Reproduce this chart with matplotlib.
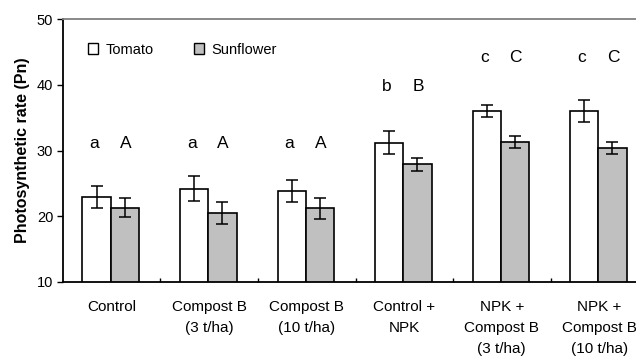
import numpy as np
import matplotlib.pyplot as plt
from matplotlib.patches import Patch
from matplotlib.ticker import FixedLocator

plt.rcParams['font.family'] = ['Liberation Sans', 'DejaVu Sans']

categories = ['Control', 'Compost B\n(3 t/ha)', 'Compost B\n(10 t/ha)',
              'Control +\nNPK', 'NPK +\nCompost B\n(3 t/ha)', 'NPK +\nCompost B\n(10 t/ha)']
tomato = [22.9, 24.2, 23.8, 31.2, 36.0, 36.0]
tomato_err = [1.7, 1.9, 1.7, 1.7, 0.9, 1.7]
sunflower = [21.3, 20.5, 21.2, 27.9, 31.3, 30.4]
sunflower_err = [1.4, 1.65, 1.6, 0.95, 0.9, 0.95]
letters_tom = ['a', 'a', 'a', 'b', 'c', 'c']
letters_sun = ['A', 'A', 'A', 'B', 'C', 'C']
letter_y = [31.1, 31.1, 31.1, 39.7, 44.2, 44.2]

fig = plt.figure(figsize=(6.36, 3.58), dpi=100)
ax = fig.add_axes([0.099, 0.2123, 0.920, 0.7346])

x = np.arange(len(categories))
w = 0.29
ekw = dict(elinewidth=1.1, capthick=1.1)
ax.bar(x - 0.155, tomato, w, yerr=tomato_err, capsize=4,
       color='white', edgecolor='black', linewidth=1.2, error_kw=ekw)
ax.bar(x + 0.135, sunflower, w, yerr=sunflower_err, capsize=4,
       color='#c0c0c0', edgecolor='black', linewidth=1.2, error_kw=ekw)

for i in range(len(categories)):
    ax.text(x[i] - 0.18, letter_y[i], letters_tom[i], ha='center', va='center', fontsize=12.5)
    ax.text(x[i] + 0.14, letter_y[i], letters_sun[i], ha='center', va='center', fontsize=12.5)

ax.set_xlim(-0.5, 5.5)
ax.set_ylim(10, 50)
ax.set_yticks([10, 20, 30, 40, 50])
ax.set_xticks(x)
ax.set_xticklabels(categories, fontsize=11, linespacing=1.62, va='top')
ax.xaxis.set_minor_locator(FixedLocator(x[:-1] + 0.5))
ax.tick_params(axis='x', which='major', length=0, pad=13)
ax.tick_params(axis='x', which='minor', direction='in', length=3, width=1)
ax.tick_params(axis='y', direction='out', length=4, width=1, labelsize=10.5, pad=3)

ax.spines['left'].set_linewidth(1.3)
ax.spines['bottom'].set_linewidth(1.3)
ax.spines['top'].set_color('#808080')
ax.spines['top'].set_linewidth(1.3)
ax.spines['right'].set_visible(False)

ax.set_ylabel('Photosynthetic rate (Pn)', fontsize=11.5, fontweight='bold', labelpad=5)

handles = [Patch(facecolor='white', edgecolor='black', linewidth=1),
           Patch(facecolor='#c0c0c0', edgecolor='black', linewidth=1)]
ax.legend(handles, ['Tomato', 'Sunflower'], loc='upper left', ncol=2, frameon=False,
          fontsize=10.5, handlelength=0.7, handleheight=0.7, handletextpad=0.5,
          columnspacing=2.8, bbox_to_anchor=(0.02, 0.96))

fig.savefig('out.png', dpi=100)
